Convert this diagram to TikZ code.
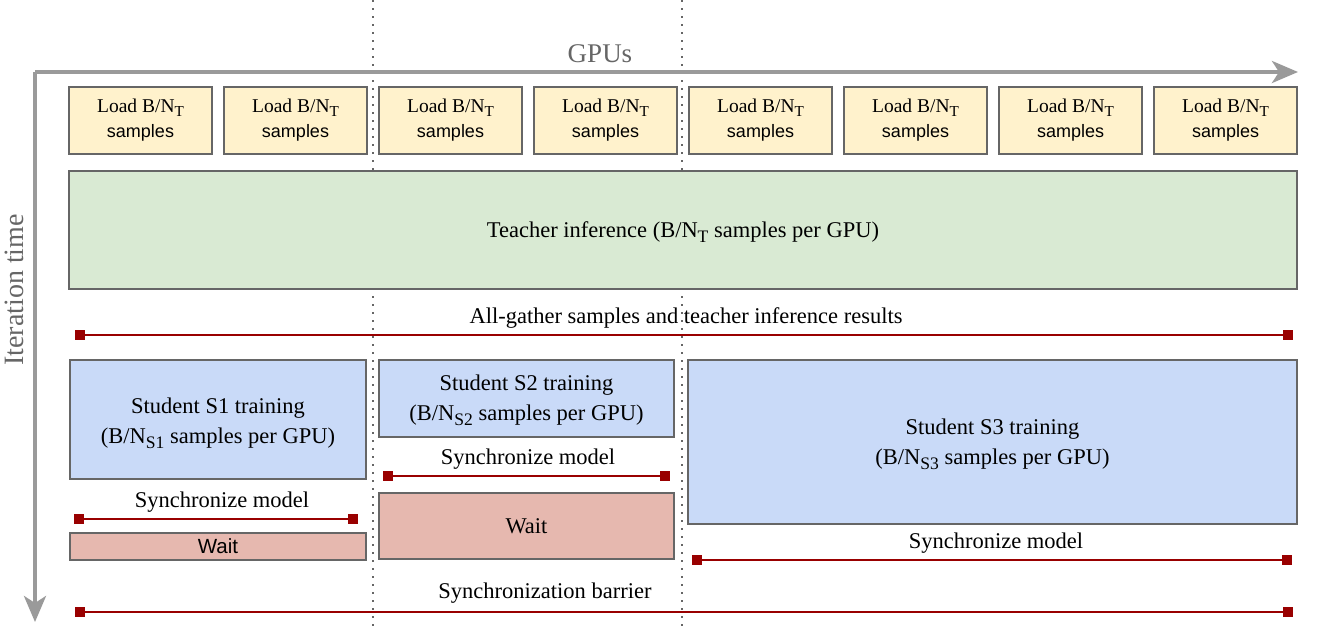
\documentclass[tikz,border=0pt]{standalone}
\usepackage{fontspec}
\setmainfont{Liberation Serif}
\newfontfamily\arialf{Liberation Sans}
\usetikzlibrary{arrows.meta}
\definecolor{loadfill}{HTML}{FFF2CC}
\definecolor{teachfill}{HTML}{D9EAD3}
\definecolor{studfill}{HTML}{C9DAF8}
\definecolor{waitfill}{HTML}{E6B8AF}
\definecolor{edge}{HTML}{666666}
\definecolor{axisgray}{HTML}{9A9A9A}
\definecolor{gputext}{HTML}{666666}
\definecolor{syncred}{HTML}{990000}
\newcommand\sbx[1]{\raisebox{-0.45ex}{\scalebox{0.78}{#1}}}
\begin{document}
\begin{tikzpicture}[x=1pt,y=-1pt,
  box/.style={draw=edge, line width=1.4pt, inner sep=0pt, outer sep=0pt, anchor=north west, align=center},
  loadbox/.style={box, fill=loadfill, minimum width=143, minimum height=67, font=\fontsize{19.5}{25}\selectfont},
  stud/.style={box, fill=studfill},
  sttext/.style={inner sep=0pt, align=center, font=\fontsize{22.5}{30}\selectfont},
  waitbox/.style={box, fill=waitfill},
  sync/.style={draw=syncred, line width=2.6pt, {Square[length=10,width=10]}-{Square[length=10,width=10]}},
  lbl/.style={inner sep=0pt, font=\fontsize{22.5}{27}\selectfont},
  axis/.style={draw=axisgray, line width=4pt, -{Stealth[length=26,width=22,inset=7]}},
  grid/.style={draw=edge, line width=1.6pt, dash pattern=on 1.6pt off 6.4pt}
]
\useasboundingbox (0,0) rectangle (1330,640);

% dotted separators
\coordinate (d1t) at (373,0); \coordinate (d1b) at (373,628);
\coordinate (d2t) at (682,0); \coordinate (d2b) at (682,628);
\draw[grid] (d1t) -- (d1b);
\draw[grid] (d2t) -- (d2b);

% axes
\coordinate (o) at (35,72);
\coordinate (xe) at (1298,72);
\coordinate (ye) at (35,622);
\draw[axis] (o) -- (xe);
\draw[axis] (o) -- (ye);
\node[text=gputext, font=\fontsize{27}{32}\selectfont] (gpus) at (600,54) {GPUs};
\node[text=gputext, font=\fontsize{28}{32}\selectfont, rotate=90] (itime) at (14,290) {Iteration time};

% load boxes
\foreach \i in {0,...,7}{
  \node[loadbox] (load\i) at ({69+155*\i},87) {Load B/N\sbx{T}\\{\arialf\fontsize{18}{25}\selectfont samples}};
}

% teacher
\node[box, fill=teachfill, minimum width=1228, minimum height=118] (teacher) at (69,171) {};
\node[sttext, yshift=-2pt] (teachert) at (teacher.center) {Teacher inference (B/N\sbx{T} samples per GPU)};

% all-gather
\coordinate (ag1) at (75,335); \coordinate (ag2) at (1293,335);
\draw[sync] (ag1) -- (ag2);
\node[lbl] (agl) at (686,318) {All-gather samples and teacher inference results};

% students
\node[stud, minimum width=296, minimum height=119] (s1) at (70,360) {};
\node[sttext, yshift=-4pt] (s1t) at (s1.center) {Student S1 training\\(B/N\sbx{S1} samples per GPU)};
\node[stud, minimum width=295, minimum height=77] (s2) at (379,360) {};
\node[sttext, yshift=-2pt] (s2t) at (s2.center) {Student S2 training\\(B/N\sbx{S2} samples per GPU)};
\node[stud, minimum width=609, minimum height=164] (s3) at (688,360) {};
\node[sttext, yshift=-2pt] (s3t) at (s3.center) {Student S3 training\\(B/N\sbx{S3} samples per GPU)};

% sync S1
\coordinate (y1a) at (74,519); \coordinate (y1b) at (358,519);
\draw[sync] (y1a) -- (y1b);
\node[lbl] (y1l) at (222,502) {Synchronize model};
\node[waitbox, minimum width=296, minimum height=27, font=\arialf\fontsize{20.5}{22}\selectfont] (w1) at (70,533) {Wait};

% sync S2
\coordinate (y2a) at (383,476); \coordinate (y2b) at (670,476);
\draw[sync] (y2a) -- (y2b);
\node[lbl] (y2l) at (528,459) {Synchronize model};
\node[waitbox, minimum width=295, minimum height=66, font=\fontsize{22.5}{27}\selectfont] (w2) at (379,493) {Wait};

% sync S3
\coordinate (y3a) at (692,560); \coordinate (y3b) at (1292,560);
\draw[sync] (y3a) -- (y3b);
\node[lbl] (y3l) at (996,543) {Synchronize model};

% barrier
\coordinate (ba) at (75,612); \coordinate (bb) at (1293,612);
\draw[sync] (ba) -- (bb);
\node[lbl] (bl) at (545,593) {Synchronization barrier};
\end{tikzpicture}
\end{document}
